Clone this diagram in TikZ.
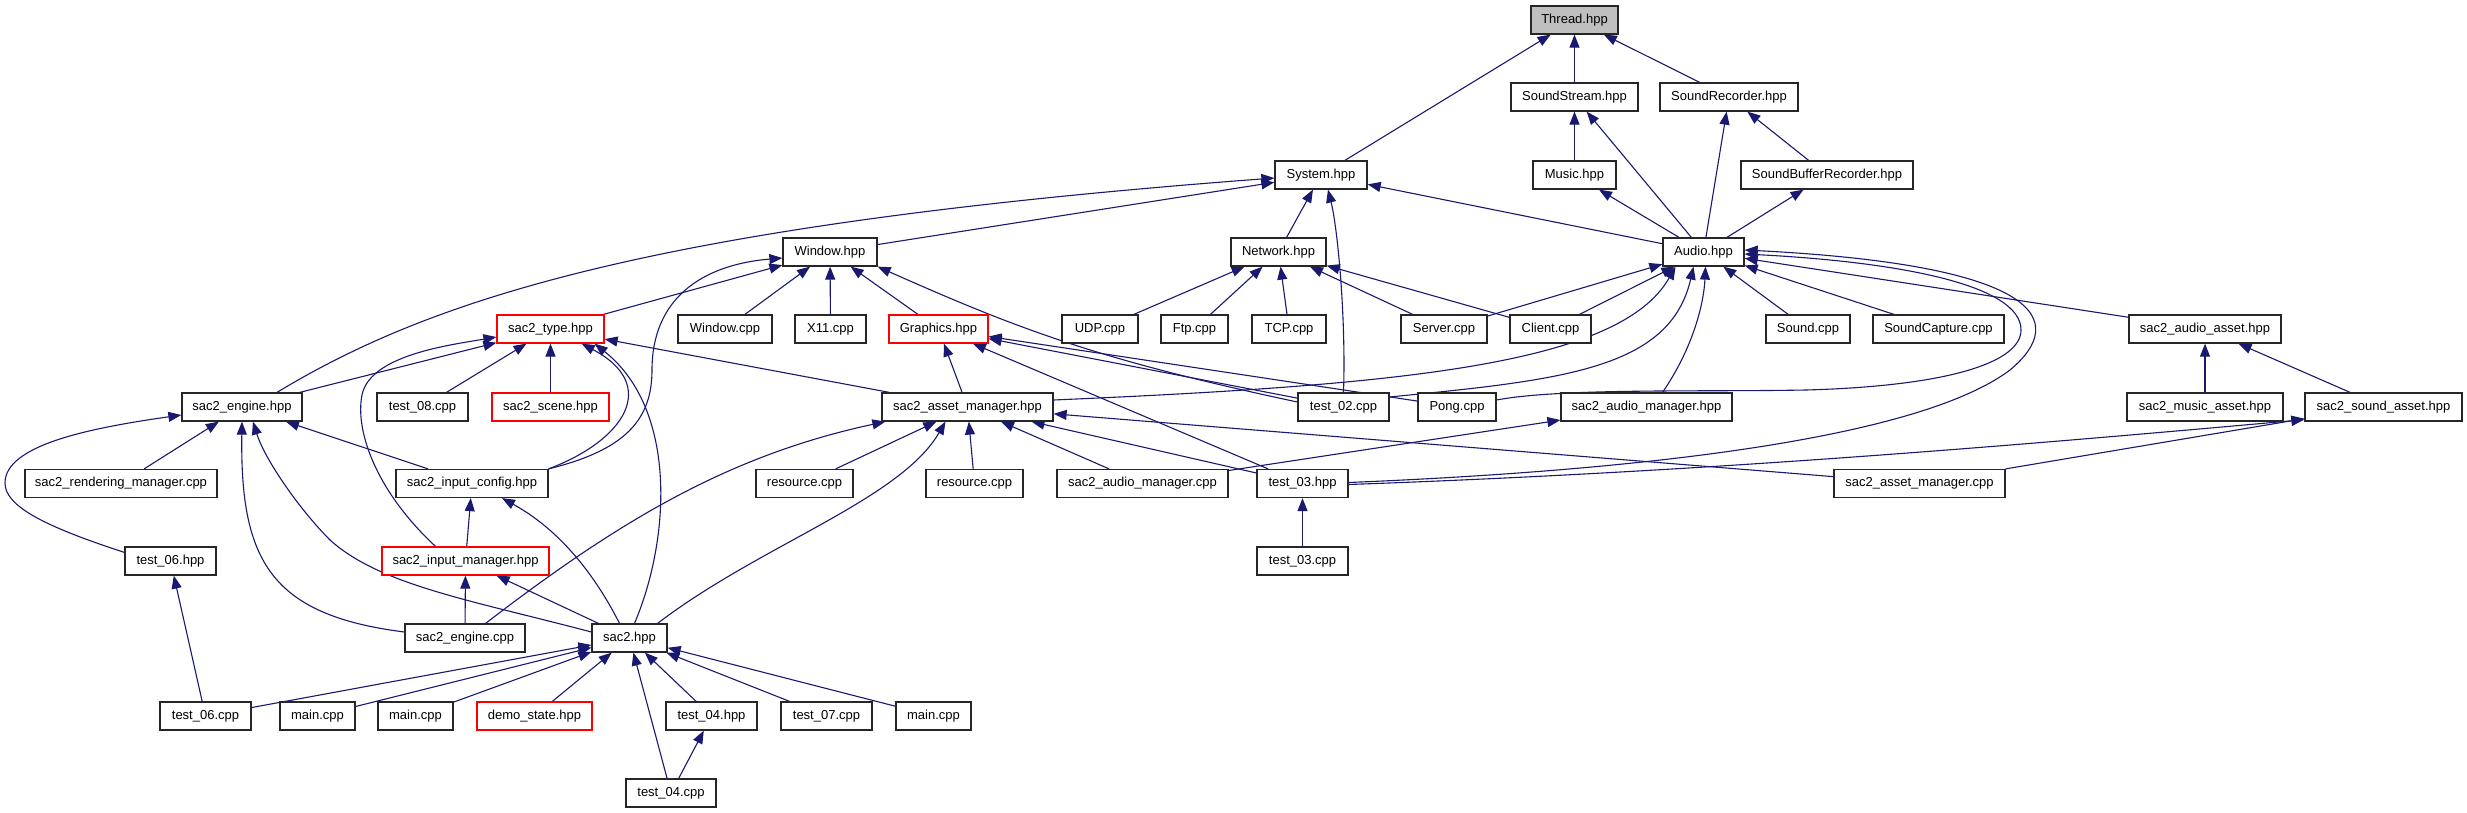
\documentclass[tikz,border=0pt]{standalone}
\usepackage{fontspec}
\setmainfont{Liberation Sans}
\usetikzlibrary{arrows.meta,calc}
\definecolor{edgecol}{HTML}{191970}
\definecolor{boxgray}{HTML}{BFBFBF}
\definecolor{boxline}{HTML}{262626}
\pgfdeclarelayer{bglayer}
\pgfdeclarelayer{edgelayer}
\pgfsetlayers{bglayer,edgelayer,main}
\tikzset{
  filebox/.style={draw=boxline, line width=1.25pt, fill=white, minimum height=28pt, inner sep=0pt,
    font=\fontsize{13}{15}\selectfont, text height=9.4pt, text depth=2.8pt},
  redbox/.style={filebox, draw=red, line width=1.2pt},
  dep/.style={draw=edgecol, line width=1.1pt, -{Triangle[length=13pt,width=10pt]}},
}
\begin{document}
\begin{tikzpicture}[x=1pt,y=-1pt]
\useasboundingbox (0,0) rectangle (2467,813);
\begin{pgfonlayer}{bglayer}
\fill[white] (0,0) rectangle (2467,813);
\end{pgfonlayer}
% row 0-3
\node[filebox,fill=boxgray,minimum width=87pt] (thread) at (1574.5,20) {Thread.hpp};
\node[filebox,minimum width=127pt] (sstream) at (1574.5,97) {SoundStream.hpp};
\node[filebox,minimum width=138pt] (srec) at (1729,97) {SoundRecorder.hpp};
\node[filebox,minimum width=92pt] (system) at (1321,175) {System.hpp};
\node[filebox,minimum width=83pt] (music) at (1574.5,175) {Music.hpp};
\node[filebox,minimum width=172pt] (sbrec) at (1827,175) {SoundBufferRecorder.hpp};
\node[filebox,minimum width=94pt] (window) at (830,252) {Window.hpp};
\node[filebox,minimum width=95pt] (network) at (1278.5,252) {Network.hpp};
\node[filebox,minimum width=81pt] (audio) at (1703.5,252) {Audio.hpp};
% row 4
\node[redbox,minimum width=107pt] (stype) at (550.5,329) {sac2\_type.hpp};
\node[filebox,minimum width=94pt] (wincpp) at (725,329) {Window.cpp};
\node[filebox,minimum width=71pt] (x11) at (830.5,329) {X11.cpp};
\node[redbox,minimum width=99pt] (graphics) at (938.5,329) {Graphics.hpp};
\node[filebox,minimum width=76pt] (udp) at (1100,329) {UDP.cpp};
\node[filebox,minimum width=67pt] (ftp) at (1194.5,329) {Ftp.cpp};
\node[filebox,minimum width=74pt] (tcp) at (1289,329) {TCP.cpp};
\node[filebox,minimum width=86pt] (server) at (1444,329) {Server.cpp};
\node[filebox,minimum width=81pt] (client) at (1550.5,329) {Client.cpp};
\node[filebox,minimum width=84pt] (sound) at (1808,329) {Sound.cpp};
\node[filebox,minimum width=131pt] (scapture) at (1938.5,329) {SoundCapture.cpp};
\node[filebox,minimum width=152pt] (aasset) at (2205,329) {sac2\_audio\_asset.hpp};
% row 5
\node[filebox,minimum width=120pt] (engineh) at (242,407) {sac2\_engine.hpp};
\node[filebox,minimum width=91pt] (t08) at (422.5,407) {test\_08.cpp};
\node[redbox,minimum width=117pt] (scene) at (550.5,407) {sac2\_scene.hpp};
\node[filebox,minimum width=171pt] (amh) at (967.5,407) {sac2\_asset\_manager.hpp};
\node[filebox,minimum width=91pt] (t02) at (1343.5,407) {test\_02.cpp};
\node[filebox,minimum width=78pt] (pong) at (1457,407) {Pong.cpp};
\node[filebox,minimum width=171pt] (amgrh) at (1646.5,407) {sac2\_audio\_manager.hpp};
\node[filebox,minimum width=156pt] (musica) at (2205,407) {sac2\_music\_asset.hpp};
\node[filebox,minimum width=157pt] (sounda) at (2383.5,407) {sac2\_sound\_asset.hpp};
% row 6
\node[filebox,minimum width=192pt] (rend) at (121,483.5) {sac2\_rendering\_manager.cpp};
\node[filebox,minimum width=152pt] (iconf) at (472,483.5) {sac2\_input\_config.hpp};
\node[filebox,minimum width=97pt] (res1) at (804.5,483.5) {resource.cpp};
\node[filebox,minimum width=97pt] (res2) at (974.5,483.5) {resource.cpp};
\node[filebox,minimum width=171pt] (amgrc) at (1142.5,483.5) {sac2\_audio\_manager.cpp};
\node[filebox,minimum width=91pt] (t03h) at (1302.5,483.5) {test\_03.hpp};
\node[filebox,minimum width=171pt] (amc) at (1919.5,483.5) {sac2\_asset\_manager.cpp};
% row 7-8
\node[filebox,minimum width=91pt] (t06h) at (170.5,561) {test\_06.hpp};
\node[redbox,minimum width=167pt] (imgr) at (465.5,561) {sac2\_input\_manager.hpp};
\node[filebox,minimum width=91pt] (t03c) at (1302.5,561) {test\_03.cpp};
\node[filebox,minimum width=120pt] (enginec) at (465,638) {sac2\_engine.cpp};
\node[filebox,minimum width=75pt] (sac2) at (629.5,638) {sac2.hpp};
% row 9-10
\node[filebox,minimum width=91pt] (t06c) at (205.5,716) {test\_06.cpp};
\node[filebox,minimum width=75pt] (main1) at (317.5,716) {main.cpp};
\node[filebox,minimum width=75pt] (main2) at (415.5,716) {main.cpp};
\node[redbox,minimum width=115pt] (demo) at (534.5,716) {demo\_state.hpp};
\node[filebox,minimum width=91pt] (t04h) at (711.5,716) {test\_04.hpp};
\node[filebox,minimum width=91pt] (t07c) at (826.5,716) {test\_07.cpp};
\node[filebox,minimum width=75pt] (main3) at (933.5,716) {main.cpp};
\node[filebox,minimum width=90pt] (t04c) at (671,793) {test\_04.cpp};

\begin{pgfonlayer}{edgelayer}
\draw[dep] (system) -- (thread);
\draw[dep] (sstream) -- (thread);
\draw[dep] (srec) -- (thread);
\draw[dep] (music) -- (sstream);
\draw[dep] (audio) -- (sstream);
\draw[dep] (sbrec) -- (srec);
\draw[dep] (audio) -- (srec);
\draw[dep] (audio) -- (music);
\draw[dep] (audio) -- (sbrec);
\draw[dep] (window) -- (system);
\draw[dep] ($(engineh.north)+(35,0)$) .. controls (430,300) and (650,225) .. ($(system.west)+(0,3)$);
\draw[dep] (network) -- (system);
\draw[dep] (t02.north) .. controls (1346,320) and (1338,230) .. ($(system.south)+(7,0)$);
\draw[dep] (audio) -- (system);
\draw[dep] (stype) -- (window);
\draw[dep] (iconf.north east) .. controls (625,450) and (652,420) .. (652,370) .. controls (652,300) and (700,265) .. ($(window.west)+(0,6)$);
\draw[dep] (wincpp) -- (window);
\draw[dep] (x11) -- (window);
\draw[dep] (graphics) -- (window);
\draw[dep] ($(t02.west)+(0,-5)$) .. controls (1100,360) and (1020,330) .. (window.south east);
\foreach \n in {udp,ftp,tcp,server,client} \draw[dep] (\n) -- (network);
\foreach \n in {server,client,sound,scapture,aasset} \draw[dep] (\n) -- (audio);
\draw[dep] ($(amh.east)+(0,-7)$) .. controls (1400,385) and (1620,365) .. ($(audio.south)+(-28,0)$);
\draw[dep] ($(t02.east)+(0,-10)$) .. controls (1560,380) and (1670,370) .. ($(audio.south)+(-10,0)$);
\draw[dep] ($(amgrh.north)+(16,0)$) .. controls (1695,345) and (1704,300) .. ($(audio.south)+(2,0)$);
\draw[dep] ($(pong.east)+(0,-7)$) .. controls (1560,388) and (1700,392) .. (1806,390) .. controls (1950,386) and (2021,362) .. (2021,330) .. controls (2021,285) and (1900,262) .. ($(audio.east)+(0,2)$);
\draw[dep] ($(t03h.east)+(0,-1)$) .. controls (1700,468) and (1930,430) .. (2010,370) .. controls (2070,320) and (2040,265) .. ($(audio.east)+(0,-2)$);
\draw[dep] (musica) -- (aasset);
\draw[dep] (sounda) -- (aasset);
\draw[dep] ($(t03h.east)+(0,1)$) .. controls (1700,472) and (2000,447) .. ($(sounda.south west)+(0,-2)$);
\draw[dep] (amc.north east) -- ($(sounda.south west)+(0,-3)$);
\draw[dep] (amc) -- (amh);
\draw[dep] (amgrc) -- (amgrh);
\foreach \n in {res1,res2,amgrc,t03h} \draw[dep] (\n) -- (amh);
\draw[dep] ($(enginec.north east)+(-40,0)$) .. controls (620,520) and (730,455) .. ($(amh.south west)+(4,0)$);
\draw[dep] ($(sac2.north east)+(-10,0)$) .. controls (760,545) and (900,500) .. ($(amh.south)+(-22,0)$);
\draw[dep] (amh) -- (stype);
\draw[dep] (amh) -- (graphics);
\draw[dep] (t02) -- (graphics);
\draw[dep] (pong) -- (graphics);
\draw[dep] (t03h) -- (graphics);
\draw[dep] (engineh) -- (stype);
\draw[dep] (t08) -- (stype);
\draw[dep] (scene) -- (stype);
\draw[dep] (iconf.north east) .. controls (625,440) and (660,385) .. ($(stype.south east)+(-23,0)$);
\draw[dep] ($(sac2.north)+(5,0)$) .. controls (670,540) and (678,410) .. ($(stype.south east)+(-10,0)$);
\draw[dep] ($(imgr.north)+(-30,0)$) .. controls (375,490) and (355,430) .. (362,395) .. controls (370,355) and (450,345) .. ($(stype.west)+(0,8)$);
\draw[dep] (rend) -- (engineh);
\draw[dep] ($(t06h.north west)+(0,6)$) .. controls (40,525) and (5,505) .. (5,483) .. controls (5,445) and (90,428) .. ($(engineh.west)+(0,8)$);
\draw[dep] (iconf) -- (engineh);
\draw[dep] ($(enginec.west)+(0,-6)$) .. controls (270,615) and (240,560) .. (engineh.south);
\draw[dep] ($(sac2.west)+(0,-6)$) .. controls (470,600) and (380,585) .. (330,540) .. controls (300,510) and (265,460) .. ($(engineh.south)+(11,0)$);
\draw[dep] (imgr) -- (iconf);
\draw[dep] ($(sac2.north)+(-10,0)$) .. controls (595,575) and (560,530) .. ($(iconf.south)+(30,0)$);
\draw[dep] (enginec) -- (imgr);
\draw[dep] (sac2) -- (imgr);
\draw[dep] (t06c) -- (t06h);
\foreach \n in {t06c,main1,main2,demo,t04h,t07c,main3,t04c} \draw[dep] (\n) -- (sac2);
\draw[dep] (t04c) -- (t04h);
\draw[dep] (t03c) -- (t03h);
\end{pgfonlayer}
\end{tikzpicture}
\end{document}
